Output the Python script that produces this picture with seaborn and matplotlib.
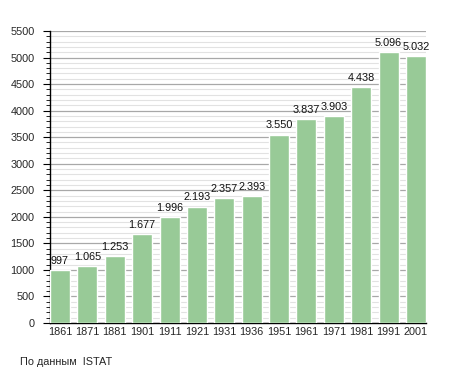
import matplotlib
matplotlib.use("Agg")
import matplotlib.pyplot as plt
import seaborn as sns
import pandas as pd
from matplotlib.ticker import MultipleLocator

years = ["1861", "1871", "1881", "1901", "1911", "1921", "1931", "1936",
         "1951", "1961", "1971", "1981", "1991", "2001"]
population = [997, 1065, 1253, 1677, 1996, 2193, 2357, 2393,
              3550, 3837, 3903, 4438, 5096, 5032]
source_note = "По данным  ISTAT"

df = pd.DataFrame({"year": years, "pop": population})

sns.set_theme(style="white")
plt.rcParams['font.family'] = ['Liberation Sans', 'DejaVu Sans']

fig = plt.figure(figsize=(4.55, 3.73), dpi=100)
ax = fig.add_axes([50/455, 1-323/373, (426-50)/455, (323-31)/373])

w = 0.73
sns.barplot(data=df, x="year", y="pop", color="#98ca97", saturation=1,
            width=w, ax=ax, zorder=3)

ax.set_xlim(-w/2, len(years)-1+w/2)
ax.set_ylim(0, 5500)
ax.yaxis.set_major_locator(MultipleLocator(500))
ax.yaxis.set_minor_locator(MultipleLocator(100))
ax.grid(which="major", axis="y", color="#a8a8a8", linewidth=0.9, zorder=0)
ax.grid(which="minor", axis="y", color="#e2e2e2", linewidth=0.8, zorder=0)
ax.set_axisbelow(True)

for s in ["top", "right"]:
    ax.spines[s].set_visible(False)
for s in ["left", "bottom"]:
    ax.spines[s].set_color("black")
    ax.spines[s].set_linewidth(1.0)

fs = 7.8
ax.tick_params(axis="y", which="major", direction="out", length=5, width=0.8,
               color="black", labelsize=fs, pad=6, left=True)
ax.tick_params(axis="y", which="minor", direction="out", length=3, width=0.6,
               color="black", left=True)
ax.tick_params(axis="x", length=0, labelsize=fs, pad=3)
ax.set_xlabel("")
ax.set_ylabel("")

def fmt(v):
    return f"{int(round(v)):,}".replace(",", ".")

ax.bar_label(ax.containers[0], labels=[fmt(v) for v in population],
             padding=3, fontsize=fs, color="#111111")

fig.text(20/455, 1-362/373, source_note, fontsize=fs, va="center", ha="left")

fig.savefig("out.png", dpi=100, facecolor="white")
